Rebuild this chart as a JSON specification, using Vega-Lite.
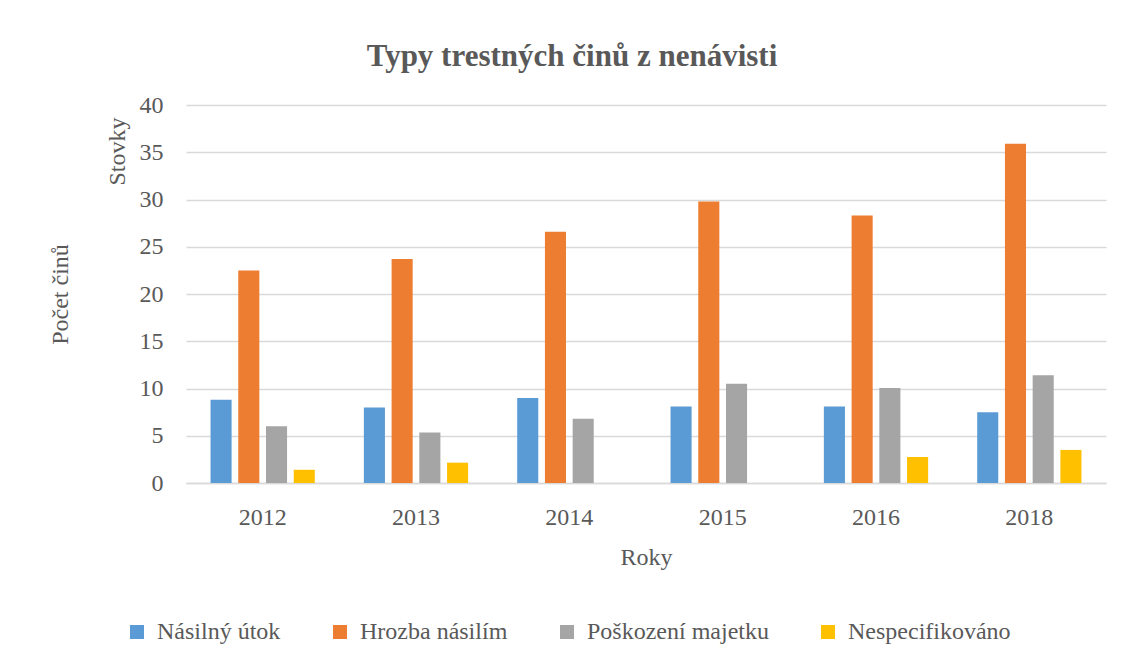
{
  "$schema": "https://vega.github.io/schema/vega-lite/v6.json",
  "width": 920,
  "height": 378,
  "autosize": {"type": "none"},
  "padding": {"left": 186, "top": 105, "right": 17, "bottom": 181},
  "background": "white",
  "title": {
    "text": "Typy trestných činů z nenávisti",
    "anchor": "middle",
    "frame": "group",
    "dx": -74,
    "offset": 20,
    "fontSize": 31,
    "font": "Liberation Serif",
    "fontWeight": "bold",
    "color": "#595959"
  },
  "data": {
    "values": [
      {"rok": "2012", "typ": "Násilný útok", "pocet": 8.8},
      {"rok": "2012", "typ": "Hrozba násilím", "pocet": 22.5},
      {"rok": "2012", "typ": "Poškození majetku", "pocet": 6.0},
      {"rok": "2012", "typ": "Nespecifikováno", "pocet": 1.4},
      {"rok": "2013", "typ": "Násilný útok", "pocet": 8.0},
      {"rok": "2013", "typ": "Hrozba násilím", "pocet": 23.7},
      {"rok": "2013", "typ": "Poškození majetku", "pocet": 5.35},
      {"rok": "2013", "typ": "Nespecifikováno", "pocet": 2.15},
      {"rok": "2014", "typ": "Násilný útok", "pocet": 9.0},
      {"rok": "2014", "typ": "Hrozba násilím", "pocet": 26.6},
      {"rok": "2014", "typ": "Poškození majetku", "pocet": 6.8},
      {"rok": "2015", "typ": "Násilný útok", "pocet": 8.1},
      {"rok": "2015", "typ": "Hrozba násilím", "pocet": 29.8},
      {"rok": "2015", "typ": "Poškození majetku", "pocet": 10.5},
      {"rok": "2016", "typ": "Násilný útok", "pocet": 8.1},
      {"rok": "2016", "typ": "Hrozba násilím", "pocet": 28.3},
      {"rok": "2016", "typ": "Poškození majetku", "pocet": 10.05},
      {"rok": "2016", "typ": "Nespecifikováno", "pocet": 2.75},
      {"rok": "2018", "typ": "Násilný útok", "pocet": 7.5},
      {"rok": "2018", "typ": "Hrozba násilím", "pocet": 35.9},
      {"rok": "2018", "typ": "Poškození majetku", "pocet": 11.4},
      {"rok": "2018", "typ": "Nespecifikováno", "pocet": 3.5}
    ]
  },
  "encoding": {
    "x": {
      "field": "rok",
      "type": "nominal",
      "scale": {"paddingInner": 0.32, "paddingOuter": 0.16},
      "axis": {
        "title": "Roky",
        "labelAngle": 0,
        "ticks": false,
        "domainColor": "#D9D9D9",
        "domainWidth": 1.5,
        "labelPadding": 22,
        "titlePadding": 16
      }
    },
    "xOffset": {
      "field": "typ",
      "type": "nominal",
      "sort": ["Násilný útok", "Hrozba násilím", "Poškození majetku", "Nespecifikováno"],
      "scale": {
        "domain": ["Násilný útok", "Hrozba násilím", "Poškození majetku", "Nespecifikováno"],
        "paddingInner": 0.24,
        "paddingOuter": 0
      }
    }
  },
  "layer": [
    {
      "mark": {"type": "bar"},
      "encoding": {
        "y": {
          "field": "pocet",
          "type": "quantitative",
          "scale": {"domain": [0, 40], "nice": false},
          "axis": {
            "title": "Stovky",
            "values": [0, 5, 10, 15, 20, 25, 30, 35, 40],
            "domain": false,
            "ticks": false,
            "grid": true,
            "gridColor": "#D9D9D9",
            "gridWidth": 1.5,
            "labelPadding": 23,
            "titleX": -69,
            "titleY": 46,
            "titleAlign": "center",
            "titleBaseline": "middle",
            "titleAngle": -90
          }
        },
        "color": {
          "field": "typ",
          "type": "nominal",
          "sort": ["Násilný útok", "Hrozba násilím", "Poškození majetku", "Nespecifikováno"],
          "scale": {
            "domain": ["Násilný útok", "Hrozba násilím", "Poškození majetku", "Nespecifikováno"],
            "range": ["#5B9BD5", "#ED7D31", "#A5A5A5", "#FFC000"]
          },
          "legend": {
            "orient": "none",
            "legendX": -61,
            "legendY": 515,
            "direction": "horizontal",
            "title": null,
            "symbolType": "square",
            "symbolSize": 196,
            "symbolStrokeWidth": 0,
            "labelFontSize": 24,
            "labelFont": "Liberation Serif",
            "labelColor": "#595959",
            "labelLimit": 400,
            "labelOffset": 8,
            "columnPadding": 47
          }
        }
      }
    },
    {
      "mark": {"type": "bar", "opacity": 0},
      "encoding": {
        "y": {
          "field": "pocet",
          "type": "quantitative",
          "axis": {
            "orient": "left",
            "title": "Počet činů",
            "labels": false,
            "ticks": false,
            "domain": false,
            "grid": false,
            "titleX": -126,
            "titleY": 189,
            "titleAlign": "center",
            "titleBaseline": "middle",
            "titleAngle": -90
          }
        }
      }
    }
  ],
  "resolve": {"axis": {"y": "independent"}},
  "config": {
    "view": {"stroke": null},
    "font": "Liberation Serif",
    "legend": {
      "labelFont": "Liberation Serif",
      "labelFontSize": 24,
      "labelColor": "#595959",
      "labelLimit": 400
    },
    "axis": {
      "labelFont": "Liberation Serif",
      "labelFontSize": 24,
      "labelColor": "#595959",
      "titleFont": "Liberation Serif",
      "titleFontSize": 24,
      "titleFontWeight": "normal",
      "titleColor": "#595959"
    }
  }
}
